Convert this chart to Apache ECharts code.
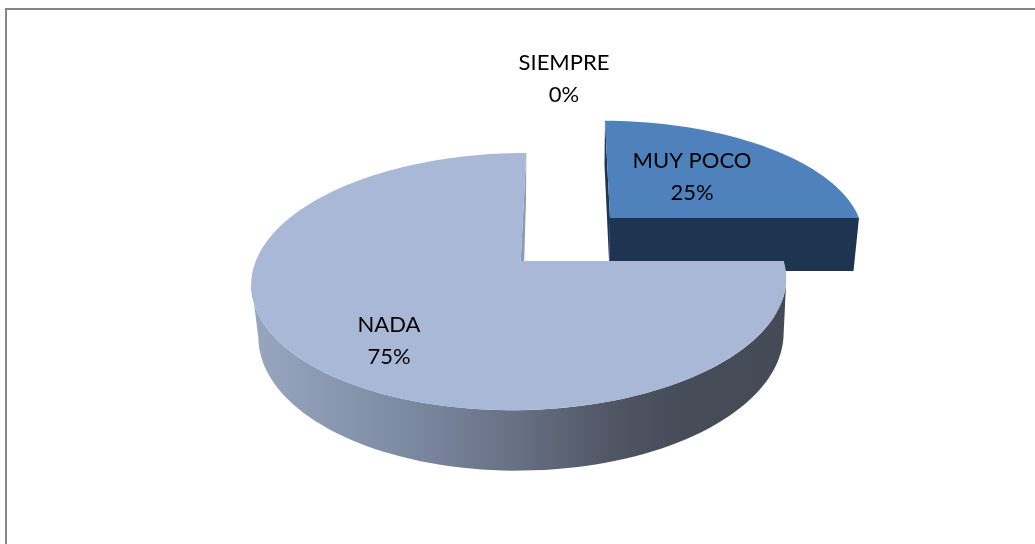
<!DOCTYPE html>
<html>
<head>
<meta charset="utf-8">
<style>html,body{margin:0;padding:0;background:#fff}#c{width:1035px;height:544px}</style>
<script src="https://cdn.jsdelivr.net/npm/echarts@6/dist/echarts.min.js"></script>
</head>
<body>
<div id="c"></div>
<script>
// ---- data ----
const categories = ['MUY POCO', 'SIEMPRE', 'NADA'];
const values = [25, 0, 75];

// ---- 3D layout (perspective projection parameters per slice, not data) ----
const sliceTop = [
  {ax: 610, ay: 218, A: 251.7, B: 112, S: -5.8, k: 0.152, m: 0.011},
  null,
  {ax: 520.7, ay: 261, A: 264, B: 125.3, S: 6.5, k: 0.16, m: 0.0035}
];
const sliceBase = [
  {ax: 609.5, ay: 271, A: 246.7, B: 121, S: -5.7, k: 0.14, m: 0.011},
  null,
  {ax: 522.5, ay: 316, A: 260, B: 133, S: 4, k: 0.14, m: 0.0035}
];
const topColors = ['#4f81bd', null, '#a9b8d6'];
const wallColors = ['#1f3450', null, '#8e9ab5'];
const sideStops = [
  null, null,
  [[0, '#98a6c0'], [0.28, '#7d8ba3'], [0.5, '#667084'], [0.68, '#4f5563'], [0.8, '#464c58'], [1, '#444a56']]
];
const labelPos = [[692, 177], [564, 79], [389, 341]];
const labelFont = 'Lato, "Open Sans", sans-serif';

function project(p, deg) {
  const t = deg * Math.PI / 180, c = Math.cos(t), s = Math.sin(t);
  const w = 1 + p.k * s + p.m * c;
  return [p.ax + (p.A * c + p.S * s) / w, p.ay - p.B * s / w];
}
function arc(p, from, to) {
  const n = Math.max(2, Math.ceil(Math.abs(to - from) / 2)), pts = [];
  for (let i = 0; i <= n; i++) pts.push(project(p, from + (to - from) * i / n));
  return pts;
}

const total = values.reduce((a, b) => a + b, 0);
function renderItem(params, api) {
  const i = params.dataIndex, v = api.value(0);
  let before = 0;
  for (let j = 0; j < i; j++) before += values[j];
  const hi = 90 - 360 * before / total, lo = hi - 360 * v / total;
  const children = [];
  if (v > 0) {
    const T = sliceTop[i], Bs = sliceBase[i];
    const apexT = [T.ax, T.ay], apexB = [Bs.ax, Bs.ay];
    // flat walls
    [hi, lo].forEach(function (ang) {
      children.push({type: 'polygon', silent: true,
        shape: {points: [apexT, project(T, ang), project(Bs, ang), apexB]},
        style: {fill: wallColors[i]}});
    });
    // outer rim visible at the front
    const a = Math.asin(T.k) * 180 / Math.PI;
    const from = Math.max(lo, -180 + a), to = Math.min(hi, -a);
    if (sideStops[i] && to > from) {
      const pts = arc(T, from, to).concat(arc(Bs, to, from));
      children.push({type: 'polygon', silent: true, shape: {points: pts},
        style: {fill: {type: 'linear', x: 0, y: 0, x2: 1, y2: 0,
          colorStops: sideStops[i].map(s => ({offset: s[0], color: s[1]}))}}});
    }
    // top face
    children.push({type: 'polygon', silent: true,
      shape: {points: [apexT].concat(arc(T, hi, lo))},
      style: {fill: topColors[i]}});
  }
  children.push({type: 'text', silent: true, z2: 10,
    x: labelPos[i][0], y: labelPos[i][1],
    style: {text: categories[i] + '\n' + v + '%', fill: '#000', align: 'center',
      verticalAlign: 'middle', font: '22px ' + labelFont, lineHeight: 32}});
  return {type: 'group', children: children};
}

const chart = echarts.init(document.getElementById('c'), null, {renderer: 'canvas'});
chart.setOption({
  animation: false,
  backgroundColor: '#ffffff',
  graphic: [
    {type: 'rect', silent: true, shape: {x: 5, y: 8, width: 1030, height: 2}, style: {fill: '#868686'}},
    {type: 'rect', silent: true, shape: {x: 5, y: 8, width: 2, height: 536}, style: {fill: '#868686'}}
  ],
  series: [{
    type: 'custom',
    coordinateSystem: 'none',
    renderItem: renderItem,
    data: values.map(v => [v]),
    silent: true
  }]
});
</script>
</body>
</html>
